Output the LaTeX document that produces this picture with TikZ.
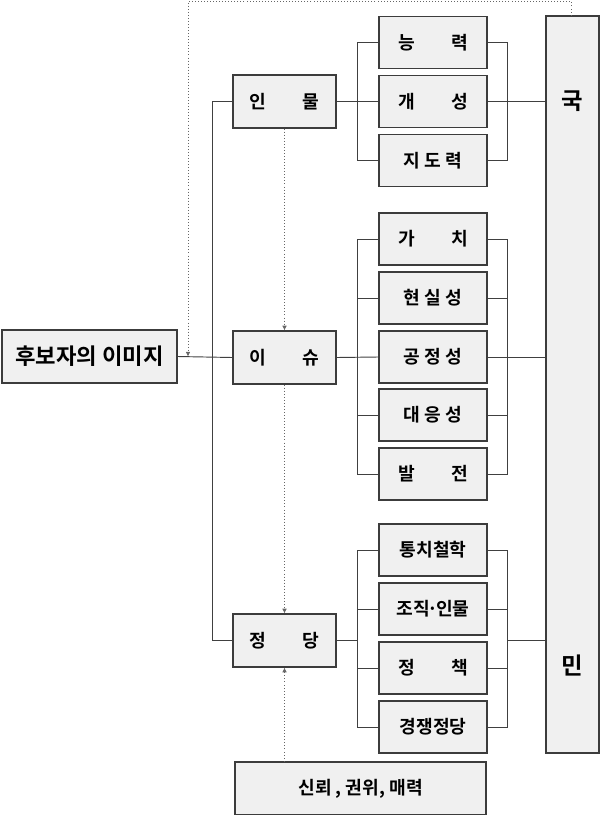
\documentclass[tikz,border=0pt]{standalone}
\usepackage{fontspec}
\setmainfont{Noto Sans CJK KR}[BoldFont={Noto Sans CJK KR Bold}]
\usetikzlibrary{positioning,arrows.meta}
\definecolor{boxfill}{RGB}{240,240,240}
\definecolor{boxline}{RGB}{60,60,60}

\tikzset{
  mainbox/.style={draw=boxline, fill=boxfill, line width=1.1pt, minimum width=3.09cm, minimum height=1.59cm, inner sep=0pt, font=\bfseries\fontsize{15.5}{17}\selectfont},
  subbox/.style={mainbox, minimum width=3.24cm, minimum height=1.56cm},
  link/.style={draw=black!75, line width=0.8pt},
  hint/.style={draw=black!60, dotted, line width=0.6pt, -{Latex[length=4pt,width=4pt]}}
}

\begin{document}
\begin{tikzpicture}[x=0.03cm, y=-0.03cm]
\useasboundingbox (0,0) rectangle (600,815);

% main column
\node[mainbox, minimum width=5.25cm, font=\bfseries\fontsize{19}{22}\selectfont] (image) at (89.5,356.5) {후보자의 이미지};
\node[mainbox] (person) at (284.5,101.5) {인\hspace{2em}물};
\node[mainbox] (issue) at (284.5,357.5) {이\hspace{2em}슈};
\node[mainbox] (party) at (284.5,640.5) {정\hspace{2em}당};
\node[mainbox, minimum width=7.53cm] (trust) at (360.5,788.5) {신뢰 , 권위, 매력};

% the public
\node[mainbox, minimum width=1.59cm, minimum height=22.11cm] (people) at (572.5,384.5) {};
\node[font=\bfseries\fontsize{20}{22}\selectfont] (guk) at (people.center |- person) {국};
\node[font=\bfseries\fontsize{20}{22}\selectfont] (min) at (572.5,665) {민};

% buses
\coordinate (lbus) at (357,0);
\coordinate (rbus) at (507,0);

% person group
\foreach \n/\y/\t in {p1/42.5/능\hspace{2em}력, p2/101.5/개\hspace{2em}성, p3/160.5/지 도 력} {
    \node[subbox] (\n) at (433,\y) {\t};
}
% issue group
\foreach \n/\y/\t in {i1/239/가\hspace{2em}치, i2/298/현 실 성, i3/357/공 정 성, i4/415/대 응 성, i5/474/발\hspace{2em}전} {
    \node[subbox] (\n) at (433,\y) {\t};
}
% party group
\foreach \n/\y/\t in {q1/550/통치철학, q2/609/조직\kern-0.12em·\kern-0.12em인물, q3/668/정\hspace{2em}책, q4/727/경쟁정당} {
    \node[subbox] (\n) at (433,\y) {\t};
}

% trunk on the left
\draw[link] (image.east) -- (issue.west);
\draw[link] (person.west) -- ++(-20,0) |- (party.west);

% person links
\draw[link] (person.east) -- (p2.west);
\draw[link] (p1.west) -| (lbus |- p3.west) -- (p3.west);
\draw[link] (p1.east) -| (rbus |- p3.east) -- (p3.east);
\draw[link] (p2.east) -- (people.west |- p2.east);

% issue links
\draw[link] (issue.east) -- (i3.west);
\draw[link] (i1.west) -| (lbus |- i5.west) -- (i5.west);
\draw[link] (i1.east) -| (rbus |- i5.east) -- (i5.east);
\foreach \n in {i2,i4} {
    \draw[link] (\n.west) -- (lbus |- \n.west);
    \draw[link] (\n.east) -- (rbus |- \n.east);
}
\draw[link] (i3.east) -- (people.west |- i3.east);

% party links
\draw[link] (party.east) -- (lbus |- party.east);
\draw[link] (q1.west) -| (lbus |- q4.west) -- (q4.west);
\draw[link] (q1.east) -| (rbus |- q4.east) -- (q4.east);
\foreach \n in {q2,q3} {
    \draw[link] (\n.west) -- (lbus |- \n.west);
    \draw[link] (\n.east) -- (rbus |- \n.east);
}
\draw[link] (rbus |- party.east) -- (people.west |- party.east);

% dotted influence arrows
\coordinate (fbtop) at (571,1);
\coordinate (fb) at (188,356.5);
\draw[hint] (people.north -| fbtop) -- (fbtop) -| (fb);
\draw[hint] (person.south) -- (issue.north);
\draw[hint] (issue.south) -- (party.north);
\draw[hint] (trust.north -| party.south) -- (party.south);

\end{tikzpicture}
\end{document}
